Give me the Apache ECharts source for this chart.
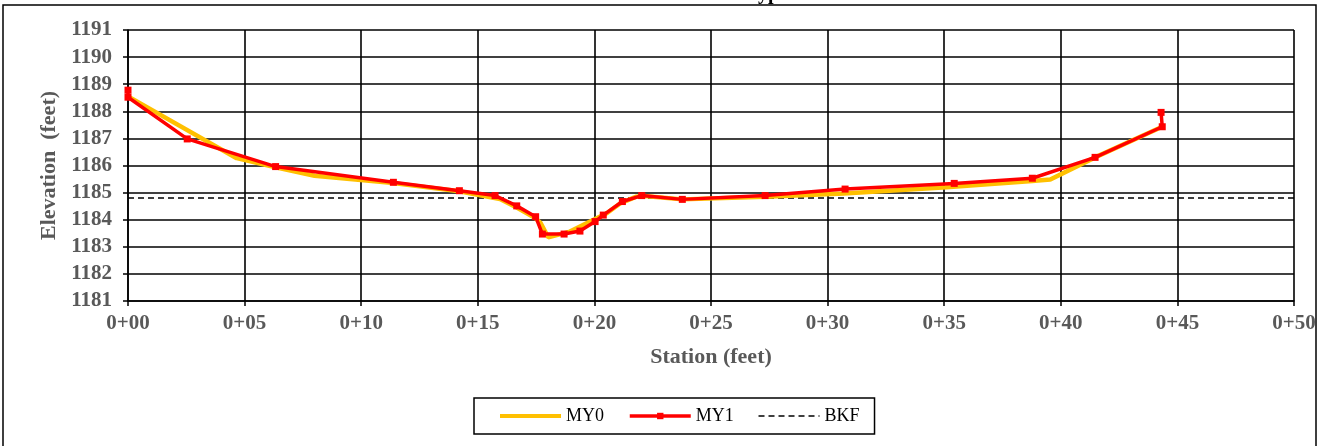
<!DOCTYPE html>
<html>
<head>
<meta charset="utf-8">
<script src="https://cdn.jsdelivr.net/npm/echarts@6/dist/echarts.min.js"></script>
<style>
html,body{margin:0;padding:0;background:#fff;}
#chart{width:1324px;height:446px;}
</style>
</head>
<body>
<div id="chart"></div>
<script>
// ---- data ----
const stationsMY0 = [0, 4.66, 6.33, 8.0, 11.38, 14.21, 15.95, 16.67, 17.48, 17.70, 18.02, 18.95, 19.88, 20.53, 21.10, 21.80, 22.03, 23.77, 27.32, 30.70, 35.10, 38.78, 39.55, 41.47, 44.35];
const elevMY0 = [1188.55, 1186.27, 1185.93, 1185.62, 1185.35, 1185.05, 1184.76, 1184.45, 1184.05, 1183.87, 1183.35, 1183.56, 1183.96, 1184.24, 1184.60, 1184.85, 1184.88, 1184.75, 1184.85, 1184.97, 1185.20, 1185.43, 1185.48, 1186.30, 1187.43];

const stationsMY1 = [0, 0, 2.54, 6.33, 11.38, 14.21, 15.74, 16.67, 17.48, 17.77, 18.70, 19.38, 20.03, 20.38, 21.20, 22.03, 23.77, 27.32, 30.75, 35.43, 38.78, 41.47, 44.35, 44.30];
const elevMY1 = [1188.78, 1188.52, 1186.98, 1185.96, 1185.38, 1185.07, 1184.89, 1184.51, 1184.11, 1183.47, 1183.47, 1183.58, 1183.93, 1184.17, 1184.67, 1184.89, 1184.75, 1184.89, 1185.13, 1185.34, 1185.53, 1186.30, 1187.43, 1187.96];

const stationsBKF = [0, 50];
const elevBKF = [1184.8, 1184.8];

const xTickLabels = ["0+00", "0+05", "0+10", "0+15", "0+20", "0+25", "0+30", "0+35", "0+40", "0+45", "0+50"];
const seriesNames = ["MY0", "MY1", "BKF"];
const titleText = "Type";

function pairs(xs, ys) { return xs.map((x, i) => [x, ys[i]]); }

const FONT = "'Liberation Serif', 'Times New Roman', serif";
const GRAY = "#595959";

const chart = echarts.init(document.getElementById('chart'), null, {renderer: 'canvas'});
chart.setOption({
  animation: false,
  backgroundColor: '#fff',
  graphic: [
    {type: 'rect', shape: {x: 3, y: 5, width: 1313, height: 470}, style: {fill: 'none', stroke: '#000', lineWidth: 1.5}, z: 0},
    {type: 'text', x: 767, y: 4, style: {text: titleText, font: "bold 20px " + FONT, fill: '#000', align: 'center', verticalAlign: 'bottom'}}
  ],
  grid: {left: 128, right: 30, top: 30, bottom: 145, containLabel: false},
  legend: {
    left: 474, top: 398,
    padding: [9, 15, 9, 24],
    itemGap: 24, itemWidth: 61, itemHeight: 8,
    borderColor: '#000', borderWidth: 1.5,
    textStyle: {fontFamily: FONT, fontSize: 18, color: '#000'},
    data: [
      {name: seriesNames[0], itemStyle: {opacity: 0}, lineStyle: {width: 4}},
      {name: seriesNames[1], lineStyle: {width: 3.5}},
      {name: seriesNames[2], itemStyle: {opacity: 0}, lineStyle: {width: 1.5}}
    ]
  },
  xAxis: {
    type: 'value', min: 0, max: 50, interval: 5,
    name: 'Station (feet)', nameLocation: 'middle', nameGap: 45,
    nameTextStyle: {fontFamily: FONT, fontSize: 22, fontWeight: 'bold', color: GRAY},
    axisLine: {show: true, lineStyle: {color: '#000', width: 1.5}},
    axisTick: {show: true, inside: false, length: 5, lineStyle: {color: '#000', width: 1.5}},
    axisLabel: {margin: 12, fontFamily: FONT, fontSize: 21, fontWeight: 'bold', color: GRAY,
      formatter: v => xTickLabels[Math.round(v / 5)]},
    splitLine: {show: true, lineStyle: {color: '#000', width: 1.6}}
  },
  yAxis: {
    type: 'value', min: 1181, max: 1191, interval: 1,
    name: 'Elevation  (feet)', nameLocation: 'middle', nameGap: 67, nameRotate: 90,
    nameTextStyle: {fontFamily: FONT, fontSize: 22, fontWeight: 'bold', color: GRAY},
    axisLine: {show: true, lineStyle: {color: '#000', width: 1.5}},
    axisTick: {show: true, inside: false, length: 5, lineStyle: {color: '#000', width: 1.5}},
    axisLabel: {margin: 16, fontFamily: FONT, fontSize: 21, fontWeight: 'bold', color: GRAY,
      formatter: v => String(v)},
    splitLine: {show: true, lineStyle: {color: '#000', width: 1.6}}
  },
  series: [
    {name: seriesNames[0], type: 'line', data: pairs(stationsMY0, elevMY0),
      symbol: 'none', lineStyle: {color: '#FFC000', width: 4.5}, itemStyle: {color: '#FFC000'}, z: 3},
    {name: seriesNames[1], type: 'line', data: pairs(stationsMY1, elevMY1),
      symbol: 'rect', symbolSize: 7, showAllSymbol: true,
      lineStyle: {color: '#FF0000', width: 3.5}, itemStyle: {color: '#FF0000'}, z: 4},
    {name: seriesNames[2], type: 'line', data: pairs(stationsBKF, elevBKF),
      symbol: 'none', lineStyle: {color: '#000', width: 1.5, type: [6, 4]}, itemStyle: {color: '#000'}, z: 2}
  ]
});
</script>
</body>
</html>
